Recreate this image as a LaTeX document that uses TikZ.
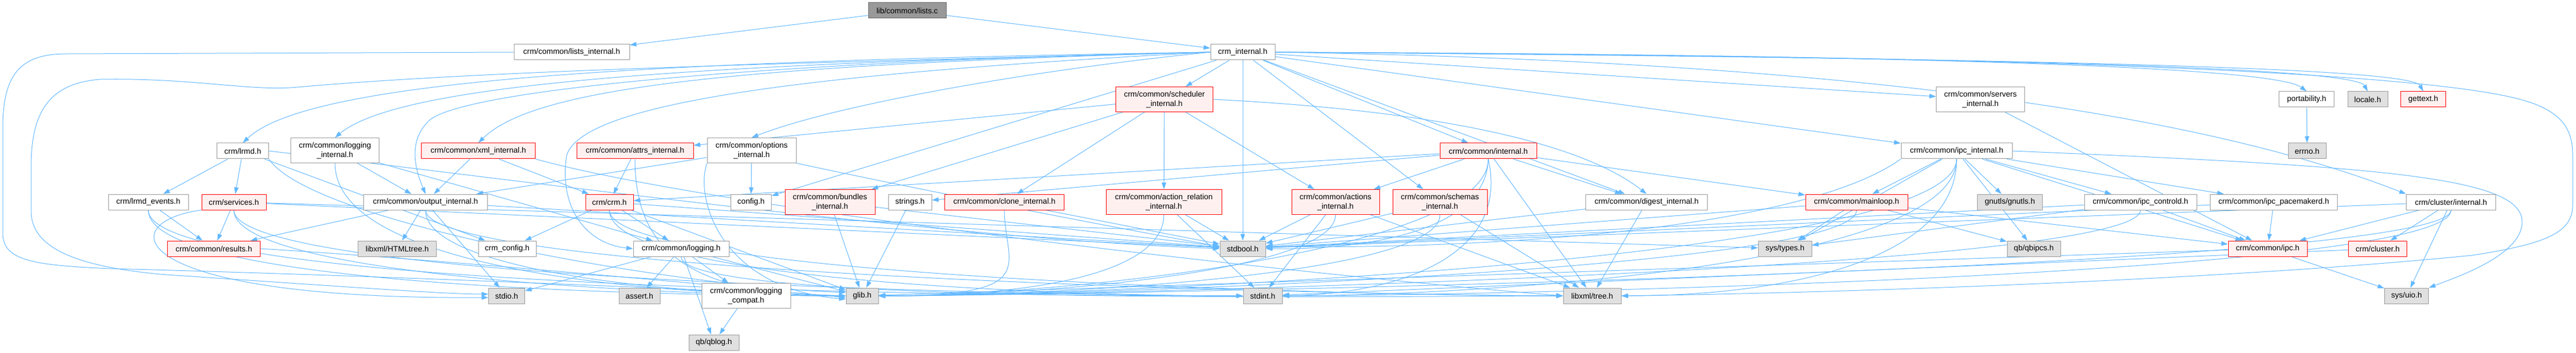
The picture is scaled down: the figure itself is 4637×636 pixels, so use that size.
\documentclass[tikz,border=0pt]{standalone}
\usepackage{fontspec}
\setmainfont{Liberation Sans}
\usetikzlibrary{arrows.meta}
\definecolor{edgecol}{HTML}{63B8FF}
\definecolor{bordgray}{HTML}{999999}
\definecolor{fillgray}{HTML}{E0E0E0}
\definecolor{fillred}{HTML}{FFF0F0}
\definecolor{bordred}{HTML}{FF0000}
\definecolor{rootfill}{HTML}{999999}
\definecolor{rootbord}{HTML}{666666}
\pgfdeclarelayer{edgelayer}
\pgfsetlayers{edgelayer,main}
\newcommand{\edgeL}[3]{\draw[e] (#1.south) .. controls +(0,-#3) and +(-300,0) .. (#2.west);}
\newcommand{\edgeR}[3]{\draw[e] (#1.south) .. controls +(0,-#3) and +(300,0) .. (#2.east);}
\begin{document}
\begin{tikzpicture}[x=1pt,y=1pt,
  base/.style={line width=1pt, inner sep=0pt, minimum height=28pt, align=center, font=\fontsize{14}{17}\selectfont, text=black},
  wb/.style={base, draw=bordgray, fill=white},
  gb/.style={base, draw=bordgray, fill=fillgray},
  rb/.style={base, draw=bordred, fill=fillred},
  root/.style={base, draw=rootbord, fill=rootfill},
  e/.style={draw=edgecol, line width=1pt, -{Triangle[length=12pt,width=8pt]}}]
\useasboundingbox (0,0) rectangle (4637,-636);
% nodes
\node[root,minimum width=140pt] (lists) at (1633,-19) {lib/common/lists.c};
\node[wb,minimum width=208pt] (listsint) at (1029,-94) {crm/common/lists\_internal.h};
\node[wb,minimum width=116pt] (crmint) at (2237,-94) {crm\_internal.h};
\node[rb,minimum width=175pt,minimum height=45pt] (sched) at (2096,-179) {crm/common/scheduler\\\_internal.h};
\node[wb,minimum width=159pt,minimum height=45pt] (servers) at (3565,-179) {crm/common/servers\\\_internal.h};
\node[wb,minimum width=99pt] (port) at (4152,-179) {portability.h};
\node[gb,minimum width=72pt] (locale) at (4262,-179) {locale.h};
\node[rb,minimum width=81pt] (gettext) at (4362,-179) {gettext.h};
\node[wb,minimum width=93pt] (lrmd) at (437,-272) {crm/lrmd.h};
\node[wb,minimum width=159pt,minimum height=45pt] (logint) at (603,-271) {crm/common/logging\\\_internal.h};
\node[rb,minimum width=205pt] (xmlint) at (861,-272) {crm/common/xml\_internal.h};
\node[rb,minimum width=210pt] (attrs) at (1143,-272) {crm/common/attrs\_internal.h};
\node[wb,minimum width=160pt,minimum height=45pt] (optint) at (1353,-271) {crm/common/options\\\_internal.h};
\node[rb,minimum width=174pt] (cint) at (2679,-272) {crm/common/internal.h};
\node[wb,minimum width=200pt] (ipcint) at (3522,-272) {crm/common/ipc\_internal.h};
\node[gb,minimum width=68pt] (errno) at (4153,-272) {errno.h};
\node[wb,minimum width=144pt] (lrmdev) at (267,-364) {crm/lrmd\_events.h};
\node[rb,minimum width=116pt] (services) at (421,-364) {crm/services.h};
\node[wb,minimum width=223pt] (outint) at (766,-364) {crm/common/output\_internal.h};
\node[rb,minimum width=86pt] (crmh) at (1097,-364) {crm/crm.h};
\node[wb,minimum width=73pt] (config) at (1352,-364) {config.h};
\node[rb,minimum width=162pt,minimum height=45pt] (bundles) at (1494,-364) {crm/common/bundles\\\_internal.h};
\node[wb,minimum width=78pt] (strings) at (1638,-364) {strings.h};
\node[rb,minimum width=215pt] (clone) at (1808,-364) {crm/common/clone\_internal.h};
\node[rb,minimum width=208pt,minimum height=45pt] (actrel) at (2095,-364) {crm/common/action\_relation\\\_internal.h};
\node[rb,minimum width=158pt,minimum height=45pt] (actions) at (2404,-364) {crm/common/actions\\\_internal.h};
\node[rb,minimum width=170pt,minimum height=45pt] (schemas) at (2592,-364) {crm/common/schemas\\\_internal.h};
\node[wb,minimum width=219pt] (digest) at (2964,-364) {crm/common/digest\_internal.h};
\node[rb,minimum width=184pt] (mainloop) at (3342,-364) {crm/common/mainloop.h};
\node[gb,minimum width=117pt] (gnutls) at (3618,-364) {gnutls/gnutls.h};
\node[wb,minimum width=202pt] (ipcctl) at (3853,-364) {crm/common/ipc\_controld.h};
\node[wb,minimum width=229pt] (ipcpm) at (4093,-364) {crm/common/ipc\_pacemakerd.h};
\node[wb,minimum width=161pt] (clint) at (4412,-364) {crm/cluster/internal.h};
\node[rb,minimum width=167pt] (results) at (385,-448) {crm/common/results.h};
\node[gb,minimum width=141pt] (html) at (715,-448) {libxml/HTMLtree.h};
\node[wb,minimum width=104pt] (crmconf) at (913,-448) {crm\_config.h};
\node[wb,minimum width=172pt] (logging) at (1226,-448) {crm/common/logging.h};
\node[gb,minimum width=82pt] (stdbool) at (2237,-448) {stdbool.h};
\node[gb,minimum width=96pt] (systypes) at (3213,-448) {sys/types.h};
\node[gb,minimum width=96pt] (qbipcs) at (3661,-448) {qb/qbipcs.h};
\node[rb,minimum width=142pt] (ipch) at (4082,-448) {crm/common/ipc.h};
\node[rb,minimum width=105pt] (cluster) at (4280,-448) {crm/cluster.h};
\node[gb,minimum width=65pt] (stdio) at (912,-533) {stdio.h};
\node[gb,minimum width=74pt] (assert) at (1151,-533) {assert.h};
\node[wb,minimum width=160pt,minimum height=45pt] (logcompat) at (1343,-533) {crm/common/logging\\\_compat.h};
\node[gb,minimum width=58pt] (glib) at (1552,-533) {glib.h};
\node[gb,minimum width=70pt] (stdint) at (2273,-533) {stdint.h};
\node[gb,minimum width=104pt] (xmltree) at (2866,-533) {libxml/tree.h};
\node[gb,minimum width=79pt] (sysuio) at (4332,-533) {sys/uio.h};
\node[gb,minimum width=90pt] (qblog) at (1285,-617) {qb/qblog.h};
% edges
\begin{pgfonlayer}{edgelayer}
\fill[white] (0,0) rectangle (4637,-636);
\draw[e] (lists) -- (listsint);
\draw[e] (lists) -- (crmint);
\draw[e] (listsint.west) -- (120,-97) .. controls (40,-97) and (5,-130) .. (5,-230) -- (5,-420) .. controls (5,-470) and (60,-478) .. (200,-484) .. controls (800,-500) and (1300,-525) .. (glib.west);
\draw[e] (crmint.west) .. controls (1500,-112) and (900,-125) .. (536,-157) .. controls (450,-165) and (350,-140) .. (180,-143) .. controls (90,-150) and (56,-200) .. (56,-300) -- (56,-380) .. controls (56,-440) and (120,-480) .. (300,-495) .. controls (600,-515) and (800,-530) .. ([yshift=3pt]stdio.west);
\draw[e] (crmint.east) .. controls (3500,-98) and (4300,-125) .. (4520,-175) .. controls (4610,-195) and (4631,-230) .. (4631,-280) -- (4631,-370) .. controls (4631,-420) and (4580,-440) .. (4450,-460) .. controls (4000,-505) and (3300,-528) .. (xmltree.east);
\draw[e] (crmint.west) .. controls (1200,-110) and (560,-140) .. (lrmd.north);
\draw[e] (crmint.west) .. controls (1250,-115) and (720,-150) .. (logint.north);
\draw[e] (crmint.west) .. controls (1300,-118) and (960,-160) .. (xmlint.north);
\draw[e] (crmint.west) .. controls (1400,-110) and (850,-160) .. (775,-215) .. controls (735,-250) and (745,-300) .. (outint.north);
\draw[e] (crmint.west) .. controls (1500,-130) and (1050,-180) .. (1020,-280) .. controls (1005,-380) and (1060,-440) .. (logging.west);
\draw[e] (crmint.west) .. controls (1850,-127) and (1500,-190) .. (optint.north);
\draw[e] (crmint.east) .. controls (3600,-100) and (4100,-125) .. (port.north);
\draw[e] (crmint.east) .. controls (3700,-103) and (4240,-125) .. (locale.north);
\draw[e] (crmint.east) .. controls (3800,-106) and (4340,-125) .. (gettext.north);
\draw[e] (crmint.east) .. controls (3300,-110) and (3950,-200) .. (clint.north west);
\draw[e] (crmint) -- (config);
\draw[e] (crmint) -- (sched);
\draw[e] (crmint) -- (stdbool);
\draw[e] (crmint) -- (cint);
\draw[e] (crmint) -- (schemas);
\draw[e] (crmint) -- (digest);
\draw[e] (crmint) -- (servers);
\draw[e] (crmint) -- (ipcint);
% scheduler
\draw[e] (sched) -- (attrs);
\draw[e] (sched) -- (bundles);
\draw[e] (sched) -- (clone);
\draw[e] (sched) -- (actrel);
\draw[e] (sched) -- (actions);
\draw[e] (sched.east) .. controls (2600,-200) and (2850,-260) .. (digest.north);
\draw[e] (servers) -- (ipch);
\draw[e] (port) -- (errno);
% lrmd
\draw[e] (lrmd) -- (lrmdev);
\draw[e] (lrmd) -- (services);
\draw[e] (lrmd) -- (crmconf);
\draw[e] (lrmd.south east) .. controls (560,-400) and (1200,-515) .. ([yshift=6pt]glib.west);
\draw[e] (lrmd.east) .. controls (900,-320) and (1700,-430) .. (stdbool.west);
% logging internal
\draw[e] (logint) -- (logging);
\draw[e] (logint) -- (outint);
\edgeL{logint}{glib}{200}
% xml internal
\draw[e] (xmlint) -- (outint);
\draw[e] (xmlint) -- (crmh);
\draw[e] (xmlint.south east) .. controls (1300,-380) and (2400,-500) .. (xmltree.west);
% attrs
\draw[e] (attrs) -- (crmh);
\edgeL{attrs}{glib}{150}
% options
\draw[e] (optint) -- (config);
\draw[e] (optint) -- (outint);
\draw[e] (optint.south west) .. controls (1250,-360) and (1300,-520) .. ([yshift=-6pt]glib.west);
\draw[e] (optint.south east) .. controls (1600,-330) and (1950,-400) .. ([yshift=4pt]stdbool.west);
% common internal
\draw[e] (cint) -- (strings);
\draw[e] (cint) -- (crmh);
\draw[e] (cint) -- (actions);
\draw[e] (cint) -- (mainloop);
\draw[e] (cint) -- (digest);
\draw[e] (cint) -- (xmltree);
\draw[e] (cint.south) .. controls (2675,-420) and (2450,-450) .. (stdbool.east);
\draw[e] (cint.south) .. controls (2720,-470) and (2500,-530) .. (stdint.east);
\edgeR{cint}{glib}{170}
% ipc internal
\draw[e] (ipcint) -- (mainloop);
\draw[e] (ipcint) -- (gnutls);
\draw[e] (ipcint) -- (qbipcs);
\draw[e] (ipcint) -- (ipcctl);
\draw[e] (ipcint) -- (ipcpm);
\draw[e] (ipcint) -- (systypes);
\draw[e] (ipcint) -- (ipch);
\draw[e] (ipcint.south west) .. controls (3250,-410) and (2700,-450) .. ([yshift=4pt]stdbool.east);
\edgeR{ipcint}{stdint}{200}
\edgeR{ipcint}{glib}{190}
\edgeR{ipcint}{xmltree}{180}
\draw[e] (ipcint.east) .. controls (4300,-300) and (4540,-320) .. (4540,-400) .. controls (4540,-460) and (4420,-500) .. (sysuio.north east);
% mainloop
\draw[e] (mainloop) -- (systypes);
\draw[e] (mainloop) -- (qbipcs);
\draw[e] (mainloop) -- (ipch);
\draw[e] (mainloop) -- (stdbool);
\edgeR{mainloop}{glib}{110}
% ipc controld / pacemakerd
\draw[e] (ipcctl) -- (ipch);
\draw[e] (ipcctl) -- (systypes);
\draw[e] (ipcctl) -- (stdbool);
\edgeR{ipcctl}{glib}{110}
\draw[e] (ipcpm) -- (ipch);
\draw[e] (ipcpm) -- (stdbool);
% cluster internal
\draw[e] (clint) -- (ipch);
\draw[e] (clint) -- (cluster);
\draw[e] (clint) -- (sysuio);
\draw[e] (clint) -- (stdbool);
\edgeR{clint}{stdint}{120}
\edgeR{clint}{glib}{110}
\draw[e] (ipch) -- (sysuio);
\draw[e] (ipch) -- (glib);
\draw[e] (cluster) -- (stdint);
% left rank 4
\draw[e] (lrmdev) -- (results);
\edgeL{lrmdev}{glib}{140}
\edgeL{lrmdev}{stdint}{150}
\draw[e] (services) -- (results);
\draw[e] (services.south west) .. controls (200,-400) and (220,-540) .. ([yshift=-3pt]stdio.west);
\edgeL{services}{glib}{120}
\edgeL{services}{stdint}{130}
\draw[e] (services) -- (stdbool);
\draw[e] (services) -- (systypes);
\draw[e] (results.east) .. controls (800,-468) and (1300,-515) .. ([yshift=-3pt]glib.west);
\draw[e] (outint) -- (results);
\draw[e] (outint) -- (html);
\draw[e] (outint) -- (stdio);
\draw[e] (outint) -- (stdbool);
\edgeL{outint}{glib}{110}
\edgeL{outint}{xmltree}{120}
\draw[e] (crmh) -- (crmconf);
\draw[e] (crmh) -- (logging);
\draw[e] (crmh) -- (glib);
\draw[e] (crmh) -- (stdbool);
\edgeL{crmh}{stdint}{130}
\edgeL{crmh}{xmltree}{125}
\draw[e] (bundles) -- (stdbool);
\draw[e] (bundles) -- (glib);
\draw[e] (strings) -- (glib);
\draw[e] (clone) -- (stdbool);
\edgeR{clone}{glib}{100}
\edgeR{actrel}{glib}{100}
\draw[e] (actrel) -- (stdint);
\draw[e] (actrel) -- (stdbool);
\draw[e] (actions) -- (stdbool);
\edgeR{actions}{glib}{100}
\draw[e] (actions) -- (stdint);
\draw[e] (actions) -- (xmltree);
\draw[e] (schemas) -- (xmltree);
\edgeR{schemas}{glib}{110}
\draw[e] (schemas) -- (stdbool);
\draw[e] (digest) -- (xmltree);
\draw[e] (digest) -- (stdbool);
% logging
\draw[e] (logging) -- (stdio);
\draw[e] (logging) -- (assert);
\draw[e] (logging) -- (qblog);
\draw[e] (logging) -- (logcompat);
\draw[e] (logging) -- (glib);
\edgeL{logging}{xmltree}{90}
\draw[e] (logcompat) -- (qblog);
\end{pgfonlayer}
\end{tikzpicture}
\end{document}
